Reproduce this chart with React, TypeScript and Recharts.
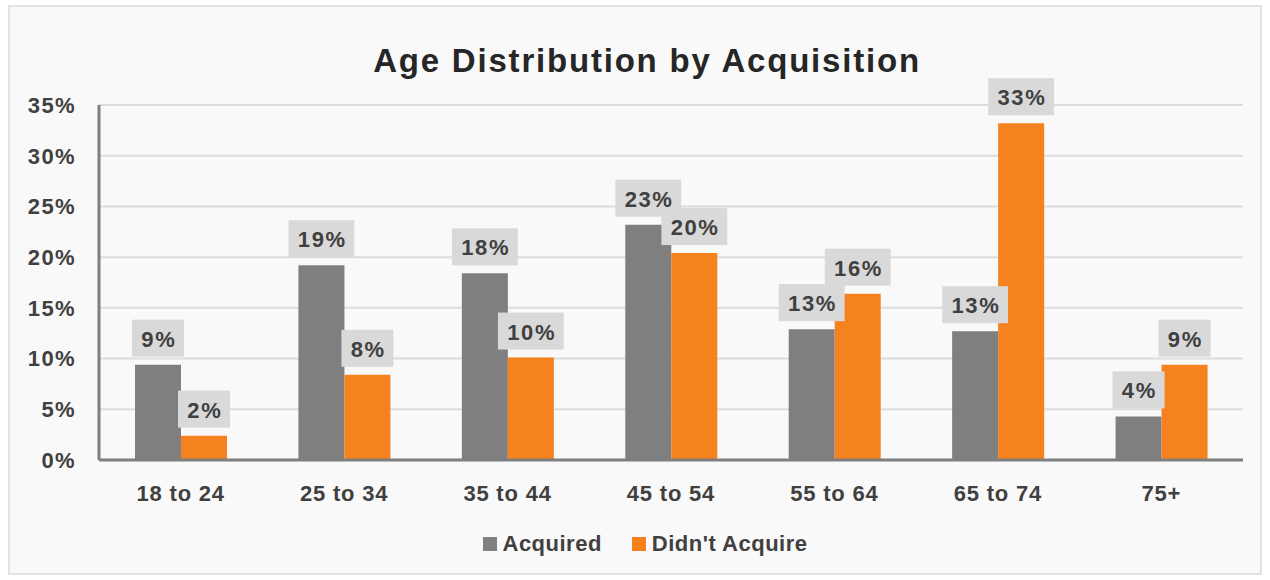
import React from 'react';
import { BarChart, Bar, XAxis, YAxis, CartesianGrid, LabelList } from 'recharts';

const categories = ['18 to 24', '25 to 34', '35 to 44', '45 to 54', '55 to 64', '65 to 74', '75+'];
const acquired = [9.4, 19.2, 18.4, 23.2, 12.9, 12.7, 4.3];
const didntAcquire = [2.4, 8.4, 10.1, 20.4, 16.4, 33.2, 9.4];
const yTicks = [0, 5, 10, 15, 20, 25, 30, 35];
const seriesNames = ['Acquired', "Didn't Acquire"];
const seriesColors = ['#7f7f7f', '#f5821f'];
const title = 'Age Distribution by Acquisition';

const data = categories.map((c, i) => ({ category: c, acquired: acquired[i], didnt: didntAcquire[i] }));

const FONT = '"Liberation Sans", Arial, Helvetica, sans-serif';
const W = 1270;
const H = 580;
const MARGIN = { top: 105, right: 27, bottom: 90, left: 0 };

const charW = (ch: string) => {
  if (ch >= '0' && ch <= '9') return 0.556;
  if (ch === '%') return 0.889;
  return 0.556;
};
const LABEL_FS = 22;
const LABEL_LS = 1.6;
const textWidth = (t: string, fs: number, ls: number) =>
  t.split('').reduce((s, c) => s + charW(c), 0) * fs + ls * t.length;

const renderLabel = (props: any) => {
  const { x, y, width, value } = props;
  const text = `${Math.round(Number(value))}%`;
  const bw = textWidth(text, LABEL_FS, LABEL_LS) + 17;
  const bh = 37;
  const cx = Number(x) + Number(width) / 2;
  const bottom = Number(y) - 8;
  return (
    <g>
      <rect x={cx - bw / 2} y={bottom - bh} width={bw} height={bh} fill="#d9d9d9" />
      <text
        x={cx + LABEL_LS / 2}
        y={bottom - bh / 2 + 1}
        textAnchor="middle"
        dominantBaseline="central"
        fontFamily={FONT}
        fontSize={LABEL_FS}
        fontWeight="bold"
        letterSpacing={LABEL_LS}
        fill="#404040"
      >
        {text}
      </text>
    </g>
  );
};

const xTickStyle = { fill: '#404040', fontSize: 22, fontWeight: 'bold' as const, fontFamily: FONT, letterSpacing: 0.8 };
const yTickStyle = { fill: '#404040', fontSize: 22, fontWeight: 'bold' as const, fontFamily: FONT, letterSpacing: 1.4 };

export default function App() {
  return (
    <div style={{ position: 'absolute', left: 0, top: 0, width: W, height: H, background: '#ffffff' }}>
      <div
        style={{
          position: 'absolute',
          left: 8,
          top: 5,
          width: 1254,
          height: 570,
          boxSizing: 'border-box',
          border: '2px solid #e3e3e3',
          background: '#f9f9f9',
        }}
      />
      <div style={{ position: 'absolute', left: 0, top: 0 }}>
        <BarChart width={W} height={H} data={data} margin={MARGIN} barGap={0} barSize={46}>
          <CartesianGrid horizontal vertical={false} stroke="#dcdcdc" strokeWidth={2} />
          <XAxis
            dataKey="category"
            height={30}
            axisLine={{ stroke: '#7f7f7f', strokeWidth: 3 }}
            tickLine={false}
            tickSize={6}
            tickMargin={19}
            tick={xTickStyle}
            interval={0}
          />
          <YAxis
            width={99}
            domain={[0, 35]}
            ticks={yTicks}
            tickFormatter={(v: number) => `${v}%`}
            axisLine={{ stroke: '#7f7f7f', strokeWidth: 3 }}
            tickLine={false}
            tickSize={6}
            tickMargin={17}
            tick={yTickStyle}
          />
          <Bar dataKey="acquired" name={seriesNames[0]} fill={seriesColors[0]} isAnimationActive={false} />
          <Bar dataKey="didnt" name={seriesNames[1]} fill={seriesColors[1]} isAnimationActive={false} />
        </BarChart>
      </div>
      <div style={{ position: 'absolute', left: 0, top: 0 }}>
        <BarChart width={W} height={H} data={data} margin={MARGIN} barGap={0} barSize={46}>
          <XAxis dataKey="category" height={30} axisLine={false} tickLine={false} tick={false} />
          <YAxis width={99} domain={[0, 35]} ticks={yTicks} axisLine={false} tickLine={false} tick={false} />
          <Bar dataKey="acquired" fill="transparent" isAnimationActive={false}>
            <LabelList dataKey="acquired" content={renderLabel} />
          </Bar>
          <Bar dataKey="didnt" fill="transparent" isAnimationActive={false}>
            <LabelList dataKey="didnt" content={renderLabel} />
          </Bar>
        </BarChart>
      </div>
      <svg width={W} height={H} style={{ position: 'absolute', left: 0, top: 0, pointerEvents: 'none' }}>
        <text
          x={647}
          y={72}
          textAnchor="middle"
          fontFamily={FONT}
          fontSize={33}
          fontWeight="bold"
          letterSpacing={1.8}
          fill="#262626"
        >
          {title}
        </text>
      </svg>
      <div
        style={{
          position: 'absolute',
          left: 0,
          top: 529,
          width: 1290,
          display: 'flex',
          justifyContent: 'center',
          alignItems: 'center',
          fontFamily: FONT,
          fontSize: 22,
          fontWeight: 'bold',
          color: '#404040',
          letterSpacing: 0.5,
          height: 30,
        }}
      >
        {seriesNames.map((n, i) => (
          <div key={n} style={{ display: 'flex', alignItems: 'center', marginRight: i === 0 ? 30 : 0 }}>
            <span style={{ width: 14, height: 14, background: seriesColors[i], marginRight: 6, display: 'inline-block' }} />
            <span>{n}</span>
          </div>
        ))}
      </div>
    </div>
  );
}
